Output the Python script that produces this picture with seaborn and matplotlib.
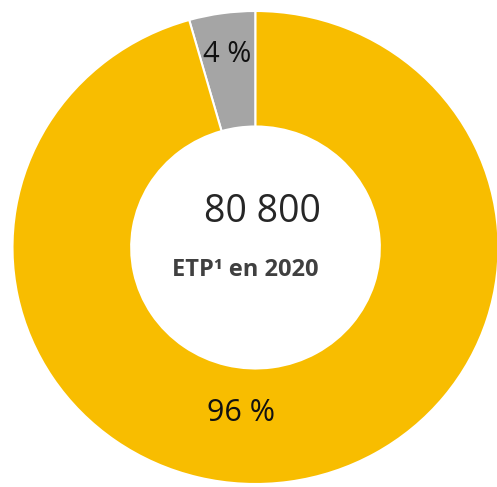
import matplotlib
matplotlib.use("Agg")
import matplotlib.pyplot as plt
import seaborn as sns

# Data
categories = ["Autres", "Principal"]
shares = [4.4, 95.6]
share_labels = ["4 %", "96 %"]
colors = ["#A5A5A5", "#F8BD00"]
total_label = "80 800"
sub_label = "ETP\u00b9 en 2020"

sns.set_theme(style="white")
plt.rcParams['font.family'] = ['Open Sans', 'DejaVu Sans']

W, H = 497, 487
fig = plt.figure(figsize=(W / 100, H / 100), dpi=100)
ax = fig.add_axes([0, 0, 1, 1])

sx = 243 / 236.5  # slight horizontal stretch as in the reference
cx, cy = 255.5 / sx, H - 247.5
R = 236.5
ax.pie(shares, colors=colors, startangle=90, counterclock=True,
       center=(cx, cy), radius=R, frame=True,
       wedgeprops=dict(width=115.5, edgecolor="white", linewidth=1.5))
ax.set_xlim(0, W / sx)
ax.set_ylim(0, H)
ax.set_aspect("auto")
ax.axis("off")

def px(x):
    return x / sx

ax.text(px(227), H - 55, share_labels[0], ha="center", va="center",
        fontsize=21, color="#111111")
ax.text(px(241), H - 413, share_labels[1], ha="center", va="center",
        fontsize=22, color="#111111")
ax.text(px(262), H - 212, total_label, ha="center", va="center",
        fontsize=27, color="#262626")
ax.text(px(245), H - 270, sub_label, ha="center", va="center",
        fontsize=17, fontweight="bold", color="#404040")

fig.savefig("out.png", dpi=100)
